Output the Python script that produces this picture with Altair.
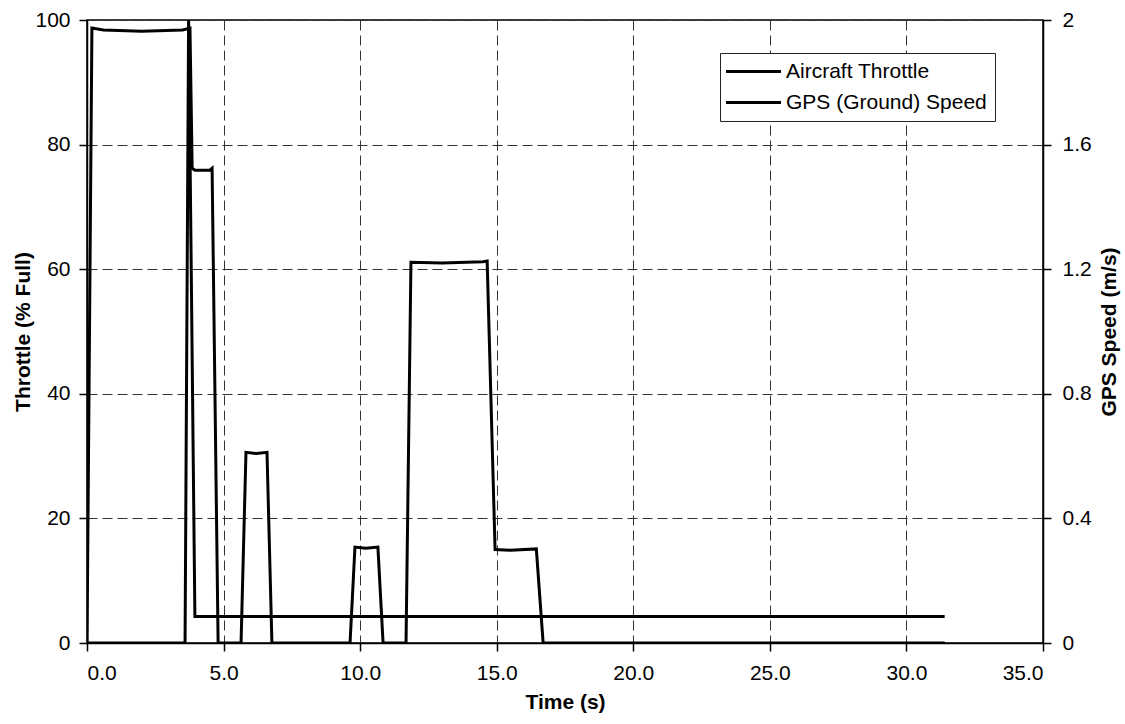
import altair as alt
import pandas as pd

# Aircraft throttle (% full) vs time (s)
throttle_t = [0.0, 0.18, 0.6, 2.0, 3.5, 3.77, 3.85, 3.95, 4.5, 4.58, 4.8,
              5.64, 5.82, 6.2, 6.59, 6.77, 9.63, 9.81, 10.2, 10.65, 10.84,
              11.68, 11.86, 13.0, 14.5, 14.65, 14.94, 15.5, 16.45, 16.7, 31.4]
throttle_v = [0.0, 98.7, 98.4, 98.2, 98.4, 98.7, 76.2, 75.9, 75.9, 76.2, 0.0,
              0.0, 30.6, 30.4, 30.6, 0.0, 0.0, 15.4, 15.2, 15.4, 0.0,
              0.0, 61.1, 61.0, 61.2, 61.3, 15.0, 14.9, 15.1, 0.0, 0.0]

# GPS (ground) speed (m/s) vs time (s)
gps_t = [0.0, 3.59, 3.72, 3.95, 31.4]
gps_v = [0.0, 0.0, 2.0, 0.085, 0.085]

series = ["Aircraft Throttle", "GPS (Ground) Speed"]
x_ticks = [0, 5, 10, 15, 20, 25, 30, 35]
left_ticks = [0, 20, 40, 60, 80, 100]
right_ticks = [0, 0.4, 0.8, 1.2, 1.6, 2.0]

df_thr = pd.DataFrame({"t": throttle_t, "v": throttle_v, "series": series[0],
                       "i": range(len(throttle_t))})
df_gps = pd.DataFrame({"t": gps_t, "v": gps_v, "series": series[1],
                       "i": range(len(gps_t))})

FONT = "Liberation Sans"
FS = 21

color = alt.Color(
    "series:N",
    scale=alt.Scale(domain=series, range=["black", "black"]),
    legend=alt.Legend(
        title=None, orient="none", legendX=633, legendY=33,
        strokeColor="#222", fillColor="white", padding=8,
        symbolType="M-5,0H5", symbolSize=121, symbolStrokeWidth=3,
        symbolOffset=15, labelOffset=22,
        labelFontSize=FS, labelColor="black", labelFont=FONT,
        rowPadding=9, labelLimit=400,
    ),
)

x_enc = alt.X(
    "t:Q",
    scale=alt.Scale(domain=[0, 35], nice=False, zero=False),
    axis=alt.Axis(
        title="Time (s)", values=x_ticks, format=".1f",
        grid=True, gridDash=[10, 5], gridColor="#333", gridWidth=1,
        tickSize=8, labelPadding=11, titlePadding=8,
    ),
)

throttle = alt.Chart(df_thr).mark_line(strokeWidth=3, clip=True).encode(
    x=x_enc,
    y=alt.Y(
        "v:Q",
        scale=alt.Scale(domain=[0, 100], nice=False),
        axis=alt.Axis(
            title="Throttle (% Full)", values=left_ticks, orient="left",
            grid=True, gridDash=[10, 5], gridColor="#333", gridWidth=1,
            tickSize=8, labelPadding=9, titlePadding=1,
        ),
    ),
    color=color,
    order="i:Q",
)

gps = alt.Chart(df_gps).mark_line(strokeWidth=3, clip=True).encode(
    x=x_enc,
    y=alt.Y(
        "v:Q",
        scale=alt.Scale(domain=[0, 2], nice=False),
        axis=alt.Axis(
            title="GPS Speed (m/s)", values=right_ticks, orient="right",
            format=".1~f", grid=False, titleAngle=270, titleBaseline="top",
            tickSize=8, labelPadding=11, titlePadding=7,
        ),
    ),
    color=color,
    order="i:Q",
)

chart = (
    alt.layer(throttle, gps)
    .resolve_scale(y="independent")
    .properties(
        width=956, height=623,
        autosize=alt.AutoSizeParams(type="none"),
        padding={"left": 87, "top": 20, "right": 82, "bottom": 81},
        background="white",
    )
    .configure_view(stroke="black", strokeWidth=1.5)
    .configure_axis(
        labelFont=FONT, titleFont=FONT, labelFontSize=FS, titleFontSize=FS,
        titleFontWeight="bold", labelColor="black", titleColor="black",
        domainColor="black", tickColor="black", domainWidth=1.5, tickWidth=1.5,
    )
)

chart.save("out.html", embed_options={"renderer": "svg", "actions": False})
